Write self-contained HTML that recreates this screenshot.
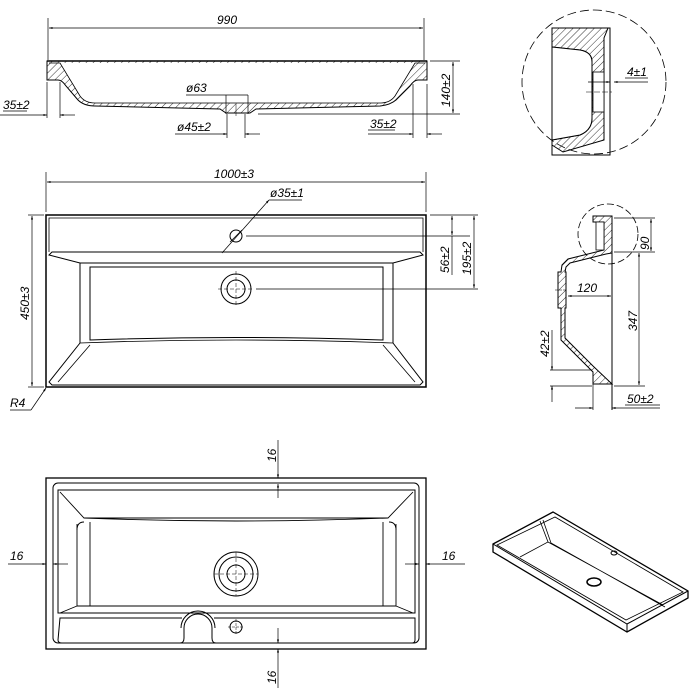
<!DOCTYPE html>
<html><head><style>
html,body{margin:0;padding:0;background:#fff}
svg{display:block}
text{font-family:"Liberation Sans",sans-serif;font-style:italic;font-size:12px;fill:#000}
</style></head><body>
<svg width="689" height="688" viewBox="0 0 689 688" xmlns="http://www.w3.org/2000/svg">
<defs>
<pattern id="h" width="5" height="5" patternUnits="userSpaceOnUse" patternTransform="rotate(45)"><line x1="0" y1="0" x2="0" y2="5" stroke="#000" stroke-width="0.8"/></pattern>
<marker id="a" viewBox="0 0 10 10" refX="10" refY="5" markerWidth="7" markerHeight="5" orient="auto-start-reverse"><path d="M0,2 L10,5 L0,8z" fill="#000"/></marker>
</defs>
<g fill="none" stroke="#000" stroke-width="1">
<line x1="48" y1="18" x2="48" y2="60" stroke-width="0.7"/>
<line x1="424" y1="18" x2="424" y2="60" stroke-width="0.7"/>
<line x1="49" y1="28" x2="423" y2="28" stroke-width="0.7" marker-start="url(#a)" marker-end="url(#a)"/>
<path d="M47,61 L427,61" stroke-width="1.5"/>
<path d="M47,61 L47,80 L58,80 Q62,80 66,86 L78,100 Q84,106 95,106 L220,109 L226,113 L250,113 L256,109 L380,106 Q390,105 396,100 L410,86 Q414,80 418,80 L427,80 L427,61 Z" fill="url(#h)" stroke-width="1"/>
<path d="M49,63 L60,63 L80,96 Q85,103 95,103 L380,103 Q390,103 395,96 L415,63 L425,63" fill="#fff" stroke-width="0.8"/>
<line x1="47" y1="82" x2="47" y2="118" stroke-width="0.7"/>
<line x1="60" y1="82" x2="60" y2="118" stroke-width="0.7"/>
<line x1="0" y1="115" x2="47" y2="115" stroke-width="0.7" marker-end="url(#a)"/>
<line x1="60" y1="115" x2="75" y2="115" stroke-width="0.7" marker-start="url(#a)"/>
<line x1="3" y1="111" x2="27" y2="111" stroke-width="0.7"/>
<line x1="186" y1="95" x2="248" y2="95" stroke-width="0.7"/>
<line x1="226" y1="95" x2="226" y2="114" stroke-width="0.7"/>
<line x1="248" y1="95" x2="248" y2="114" stroke-width="0.7"/>
<line x1="236" y1="104" x2="236" y2="116" stroke-width="0.5"/>
<line x1="175" y1="134" x2="227" y2="134" stroke-width="0.7" marker-end="url(#a)"/>
<line x1="245" y1="134" x2="260" y2="134" stroke-width="0.7" marker-start="url(#a)"/>
<line x1="227" y1="114" x2="227" y2="138" stroke-width="0.7"/>
<line x1="245" y1="114" x2="245" y2="138" stroke-width="0.7"/>
<line x1="413" y1="84" x2="413" y2="138" stroke-width="0.7"/>
<line x1="427" y1="84" x2="427" y2="138" stroke-width="0.7"/>
<line x1="368" y1="134" x2="413" y2="134" stroke-width="0.7" marker-end="url(#a)"/>
<line x1="427" y1="134" x2="442" y2="134" stroke-width="0.7" marker-start="url(#a)"/>
<line x1="368" y1="130" x2="395" y2="130" stroke-width="0.7"/>
<line x1="430" y1="61" x2="460" y2="61" stroke-width="0.7"/>
<line x1="258" y1="114" x2="460" y2="114" stroke-width="0.7"/>
<line x1="453" y1="62" x2="453" y2="113" stroke-width="0.7" marker-start="url(#a)" marker-end="url(#a)"/>
<circle cx="594" cy="82" r="72" stroke-dasharray="9,4" stroke-width="0.8"/>
<path d="M552,28 L610,28 L610,155 L552,155 Z" stroke-width="1"/>
<path d="M552,28 L608,28 L604,38 L604,140 L563,152 L552,145 L552,140 L580,135 Q592,130 592,118 L592,62 Q592,52 580,50 L552,47 Z" fill="url(#h)"/>
<path d="M552,47 L580,50 Q592,52 592,62 L592,118 Q592,130 580,135 L552,140 Z" fill="#fff"/>
<rect x="593" y="72" width="11" height="40" fill="#fff" stroke-width="0.8"/>
<line x1="588" y1="82" x2="610" y2="82" stroke-width="0.7" marker-end="url(#a)"/>
<line x1="614" y1="82" x2="648" y2="82" stroke-width="0.7" marker-start="url(#a)"/>
<line x1="625" y1="78" x2="648" y2="78" stroke-width="0.7"/>
<line x1="586" y1="92" x2="612" y2="92" stroke-width="0.6" stroke-dasharray="6,2"/>
<line x1="46" y1="172" x2="46" y2="212" stroke-width="0.7"/>
<line x1="426" y1="172" x2="426" y2="212" stroke-width="0.7"/>
<line x1="47" y1="182" x2="425" y2="182" stroke-width="0.7" marker-start="url(#a)" marker-end="url(#a)"/>
<rect x="46" y="215" width="380" height="172" stroke-width="1.5"/>
<path d="M49,252 L49,218 L423,218 L423,252" stroke-width="0.8"/>
<path d="M52,252 L420,252 L423,255 L393,263 L80,263 L49,255 Z M80,263 L80,343 L49,382 L52,385 L420,385 L423,382 L393,343 L393,263" stroke-width="1"/>
<path d="M90,267 L383,267 L383,340 Q236,335 90,340 Z" stroke-width="1"/>
<path d="M80,343 Q236,337 393,343 M58,382 L90,345 M415,382 L383,345" stroke-width="0.8"/>
<circle cx="236" cy="236" r="6"/>
<line x1="230" y1="242" x2="242" y2="230" stroke-width="0.7"/>
<line x1="246" y1="236" x2="470" y2="236" stroke-width="0.7"/>
<line x1="222" y1="253" x2="269" y2="200" stroke-width="0.7" marker-end="url(#a)"/>
<line x1="269" y1="200" x2="302" y2="200" stroke-width="0.7"/>
<circle cx="236" cy="289" r="15"/>
<circle cx="236" cy="289" r="9"/>
<line x1="218" y1="289" x2="254" y2="289" stroke-width="0.5" stroke-dasharray="4,2"/>
<line x1="236" y1="271" x2="236" y2="307" stroke-width="0.5" stroke-dasharray="4,2"/>
<line x1="256" y1="289" x2="478" y2="289" stroke-width="0.7"/>
<line x1="430" y1="215" x2="478" y2="215" stroke-width="0.7"/>
<line x1="452" y1="216" x2="452" y2="235" stroke-width="0.7" marker-start="url(#a)" marker-end="url(#a)"/>
<line x1="452" y1="236" x2="452" y2="275" stroke-width="0.7"/>
<line x1="474" y1="216" x2="474" y2="288" stroke-width="0.7" marker-start="url(#a)" marker-end="url(#a)"/>
<line x1="28" y1="215" x2="44" y2="215" stroke-width="0.7"/>
<line x1="28" y1="387" x2="44" y2="387" stroke-width="0.7"/>
<line x1="32" y1="216" x2="32" y2="386" stroke-width="0.7" marker-start="url(#a)" marker-end="url(#a)"/>
<line x1="10" y1="410" x2="31" y2="410" stroke-width="0.7"/>
<line x1="31" y1="410" x2="46" y2="388" stroke-width="0.7" marker-end="url(#a)"/>
<circle cx="608" cy="234" r="30" stroke-dasharray="7,3" stroke-width="0.8"/>
<path d="M593,216 L612,216 L612,253 L606,254 L570,263 L566,267 L565,272 L566,272 L566,308 L565,308 L565,338 L593,366 L612,384 L593,384 L593,372 L561,340 L561,308 L558,308 L558,272 L561,272 L562,265 L568,259 L604,250 L604,222 L593,222 Z" fill="url(#h)"/>
<path d="M596,222 L604,222 L604,250 L596,250 Z" fill="#fff" stroke-width="0.8"/>
<line x1="555" y1="290" x2="566" y2="290" stroke-width="0.5" stroke-dasharray="3,1"/>
<line x1="612" y1="216" x2="612" y2="410" stroke-width="1"/>
<line x1="593" y1="380" x2="593" y2="410" stroke-width="0.7"/>
<line x1="575" y1="408" x2="593" y2="408" stroke-width="0.7" marker-end="url(#a)"/>
<line x1="612" y1="408" x2="660" y2="408" stroke-width="0.7" marker-start="url(#a)"/>
<line x1="625" y1="405" x2="660" y2="405" stroke-width="0.7"/>
<line x1="614" y1="218" x2="655" y2="218" stroke-width="0.7"/>
<line x1="614" y1="252" x2="655" y2="252" stroke-width="0.7"/>
<line x1="651" y1="219" x2="651" y2="251" stroke-width="0.7" marker-start="url(#a)" marker-end="url(#a)"/>
<line x1="614" y1="386" x2="645" y2="386" stroke-width="0.7"/>
<line x1="639" y1="253" x2="639" y2="385" stroke-width="0.7" marker-start="url(#a)" marker-end="url(#a)"/>
<line x1="568" y1="296" x2="611" y2="296" stroke-width="0.7" marker-start="url(#a)" marker-end="url(#a)"/>
<line x1="550" y1="370" x2="592" y2="370" stroke-width="0.7"/>
<line x1="550" y1="386" x2="592" y2="386" stroke-width="0.7"/>
<line x1="552" y1="330" x2="552" y2="370" stroke-width="0.7" marker-end="url(#a)"/>
<line x1="552" y1="386" x2="552" y2="402" stroke-width="0.7" marker-start="url(#a)"/>
<rect x="46" y="478" width="380" height="171" stroke-width="1.3"/>
<rect x="53" y="483" width="366" height="160" rx="5" stroke-width="1"/>
<path d="M58,490 L415,490 L415,613 L58,613 Z" stroke-width="1"/>
<path d="M60,492 L84,518 L388,518 L413,492 M77,524 L77,606 L60,613 M396,524 L396,606 L413,613" stroke-width="0.9"/>
<path d="M84,518 Q236,524 388,518 M90,522 L90,606 M383,522 L383,606 M77,606 L396,606 M84,522 Q77,522 77,530 M389,522 Q396,522 396,530" stroke-width="0.9"/>
<path d="M182,618 L60,618 L58,640 Q58,643 62,643 L180,643 Q184,643 184,638 L184,628 A14,14 0 0 1 212,628 L212,638 Q212,643 216,643 L412,643 Q415,643 415,640 L415,618 L214,618" stroke-width="1"/>
<path d="M181,628 A17,17 0 0 1 215,628" stroke-width="1"/>
<circle cx="236" cy="574" r="22"/>
<circle cx="236" cy="574" r="17"/>
<circle cx="236" cy="574" r="9"/>
<line x1="214" y1="574" x2="258" y2="574" stroke-width="0.5" stroke-dasharray="4,2"/>
<line x1="236" y1="552" x2="236" y2="596" stroke-width="0.5" stroke-dasharray="4,2"/>
<circle cx="236" cy="627" r="6"/>
<line x1="228" y1="627" x2="244" y2="627" stroke-width="0.5" stroke-dasharray="3,1"/>
<line x1="236" y1="619" x2="236" y2="635" stroke-width="0.5" stroke-dasharray="3,1"/>
<line x1="278" y1="440" x2="278" y2="478" stroke-width="0.7" marker-end="url(#a)"/>
<line x1="278" y1="498" x2="278" y2="484" stroke-width="0.7" marker-end="url(#a)"/>
<line x1="278" y1="628" x2="278" y2="643" stroke-width="0.7" marker-end="url(#a)"/>
<line x1="278" y1="688" x2="278" y2="649" stroke-width="0.7" marker-end="url(#a)"/>
<line x1="8" y1="564" x2="46" y2="564" stroke-width="0.7" marker-end="url(#a)"/>
<line x1="68" y1="564" x2="53" y2="564" stroke-width="0.7" marker-end="url(#a)"/>
<line x1="405" y1="564" x2="419" y2="564" stroke-width="0.7" marker-end="url(#a)"/>
<line x1="465" y1="564" x2="426" y2="564" stroke-width="0.7" marker-end="url(#a)"/>
<path d="M493,544 L553,512 L688,591 L688,598 L627,632 L493,552 Z" stroke-width="1.3"/>
<path d="M493,544 L627,624 L688,591 M627,624 L627,632" stroke-width="1"/>
<path d="M497,545 L555,517 L683,592 L626,620 Z" stroke-width="0.8"/>
<path d="M540,521 L548,542 L520,557 M548,542 L663,605 M543,520 L551,543 L665,607" stroke-width="0.8"/>
<ellipse cx="594" cy="582" rx="7" ry="4" stroke-width="1.5"/>
<ellipse cx="614" cy="553" rx="3" ry="2" stroke-width="1"/>
</g>
<text x="217" y="24">990</text>
<text x="186" y="92">ø63</text>
<text x="3" y="109">35±2</text>
<text x="177" y="131">ø45±2</text>
<text x="370" y="128">35±2</text>
<text transform="translate(450,107) rotate(-90)">140±2</text>
<text x="627" y="76">4±1</text>
<text x="214" y="178">1000±3</text>
<text x="270" y="197">ø35±1</text>
<text transform="translate(449,273) rotate(-90)">56±2</text>
<text transform="translate(471,275) rotate(-90)">195±2</text>
<text transform="translate(29,320) rotate(-90)">450±3</text>
<text x="10" y="407">R4</text>
<text transform="translate(649,250) rotate(-90)">90</text>
<text transform="translate(637,331) rotate(-90)">347</text>
<text x="577" y="292">120</text>
<text transform="translate(549,357) rotate(-90)">42±2</text>
<text x="627" y="403">50±2</text>
<text transform="translate(276,462) rotate(-90)">16</text>
<text transform="translate(276,684) rotate(-90)">16</text>
<text x="10" y="560">16</text>
<text x="442" y="560">16</text>
</svg>
</body></html>
